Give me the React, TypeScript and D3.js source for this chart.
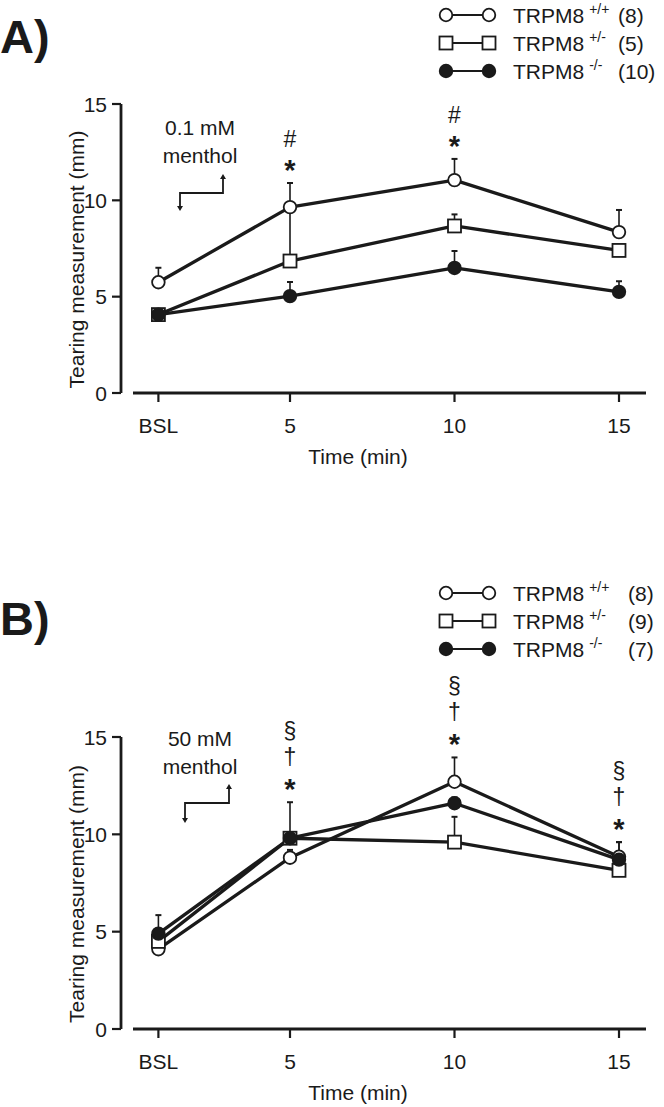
import React from 'react';
import * as d3 from 'd3';

// ---------- data ----------
const timeLabels = ['BSL', '5', '10', '15'];
const timeValues = [1, 5, 10, 15];
const yTicks = [0, 5, 10, 15];

const genotypes = ['+/+', '+/-', '-/-'];
const nA = ['(8)', '(5)', '(10)'];
const nB = ['(8)', '(9)', '(7)'];

// Panel A: 0.1 mM menthol
const wtA = [5.75, 9.65, 11.05, 8.35];
const wtAErr = [0.75, 1.25, 1.1, 1.15];
const hetA = [4.07, 6.85, 8.67, 7.4];
const hetAErr = [0.2, 2.8, 0.6, 0.2];
const koA = [4.07, 5.03, 6.49, 5.25];
const koAErr = [0.25, 0.73, 0.88, 0.55];

// Panel B: 50 mM menthol
const wtB = [4.1, 8.8, 12.7, 8.85];
const wtBErr = [0.2, 0.4, 1.25, 0.75];
const hetB = [4.5, 9.8, 9.6, 8.15];
const hetBErr = [0.3, 0.3, 1.3, 0.3];
const koB = [4.9, 9.8, 11.6, 8.7];
const koBErr = [0.95, 1.85, 0.3, 0.9];

const annotAIndex = [1, 2];
const annotAMarks = ['*', '#'];
const annotBIndex = [1, 2, 3];
const annotBMarks = ['*', '†', '§'];

const FONT = '"Liberation Sans", Arial, Helvetica, sans-serif';

type Series = { values: number[]; errs: number[]; shape: 'circle' | 'square'; fill: string };

const markStyle: Record<string, { size: number; weight: string; dy: number }> = {
  '*': { size: 29, weight: 'bold', dy: 15 },
  '#': { size: 23, weight: 'normal', dy: 8 },
  '†': { size: 23, weight: 'normal', dy: 7 },
  '§': { size: 23, weight: 'normal', dy: 7 },
};

function Marker({ cx, cy, shape, fill }: { cx: number; cy: number; shape: string; fill: string }) {
  if (shape === 'square') {
    const s = 13;
    return <rect x={cx - s / 2} y={cy - s / 2} width={s} height={s} fill={fill} stroke="#1a1a1a" strokeWidth={1.8} />;
  }
  return <circle cx={cx} cy={cy} r={6.3} fill={fill} stroke="#1a1a1a" strokeWidth={1.8} />;
}

function Panel(props: {
  top: number;
  bottom: number;
  series: Series[];
  annotIndex: number[];
  annotMarks: string[];
  legendY: number;
  legendN: string[];
  nX: number;
  label: string;
  labelY: number;
  conc: string;
  concY: number;
  arrow: { x1: number; y1: number; x2: number; yTop: number; yBot: number };
}) {
  const { top, bottom, series, annotIndex, annotMarks, legendY, legendN, nX, label, labelY, conc, concY, arrow } = props;
  const x = d3.scaleLinear().domain([0, 15]).range([125.5, 619]);
  const y = d3.scaleLinear().domain([0, 15]).range([bottom, top]);
  const line = d3
    .line<number>()
    .x((_, i) => x(timeValues[i]))
    .y((d) => y(d));
  const ink = '#1a1a1a';
  const axisX = 121;

  return (
    <g fontFamily={FONT} fill={ink}>
      {/* panel label */}
      <text x={0} y={labelY} fontSize={47} fontWeight="bold">{label}</text>

      {/* legend */}
      {series.map((s, i) => {
        const ly = legendY + i * 28;
        return (
          <g key={'lg' + i}>
            <line x1={446} x2={489} y1={ly} y2={ly} stroke={ink} strokeWidth={2} />
            <Marker cx={446} cy={ly} shape={s.shape} fill={s.fill} />
            <Marker cx={489} cy={ly} shape={s.shape} fill={s.fill} />
            <text x={513} y={ly + 8} fontSize={21}>
              TRPM8
              <tspan dx={5} dy={-9} fontSize={14}>{genotypes[i]}</tspan>
            </text>
            <text x={nX} y={ly + 8} fontSize={21}>{legendN[i]}</text>
          </g>
        );
      })}

      {/* y axis */}
      <line x1={axisX} x2={axisX} y1={y(0)} y2={y(15)} stroke={ink} strokeWidth={2.8} />
      {yTicks.map((t) => (
        <g key={'yt' + t}>
          <line x1={axisX - 9} x2={axisX} y1={y(t)} y2={y(t)} stroke={ink} strokeWidth={2.2} />
          <text x={107} y={y(t) + 7.5} fontSize={21} textAnchor="end">{t}</text>
        </g>
      ))}
      <text
        transform={`translate(84,${(y(0) + y(15)) / 2 + 11}) rotate(-90)`}
        fontSize={21}
        textAnchor="middle"
      >
        Tearing measurement (mm)
      </text>

      {/* x axis */}
      <line x1={133} x2={646} y1={bottom} y2={bottom} stroke={ink} strokeWidth={3} />
      {timeValues.map((t, i) => (
        <g key={'xt' + i}>
          <line x1={x(t)} x2={x(t)} y1={bottom} y2={bottom + 9} stroke={ink} strokeWidth={2.2} />
          <text x={x(t)} y={bottom + 40} fontSize={21} textAnchor="middle">{timeLabels[i]}</text>
        </g>
      ))}
      <text x={358} y={bottom + 71} fontSize={21} textAnchor="middle">Time (min)</text>

      {/* menthol annotation */}
      <text x={200} y={concY} fontSize={21} textAnchor="middle">{conc}</text>
      <text x={200} y={concY + 28} fontSize={21} textAnchor="middle">menthol</text>
      <path
        d={`M${arrow.x1},${arrow.yBot - 3} L${arrow.x1},${arrow.y1} L${arrow.x2},${arrow.y1} L${arrow.x2},${arrow.yTop + 3}`}
        fill="none"
        stroke={ink}
        strokeWidth={1.8}
      />
      <path d={`M${arrow.x1 - 3},${arrow.yBot - 4} L${arrow.x1 + 3},${arrow.yBot - 4} L${arrow.x1},${arrow.yBot + 1} Z`} fill={ink} />
      <path d={`M${arrow.x2 - 3},${arrow.yTop + 4} L${arrow.x2 + 3},${arrow.yTop + 4} L${arrow.x2},${arrow.yTop - 1} Z`} fill={ink} />

      {/* error bars */}
      {series.map((s, si) =>
        s.values.map((v, i) => (
          <g key={'eb' + si + '-' + i}>
            <line x1={x(timeValues[i])} x2={x(timeValues[i])} y1={y(v)} y2={y(v + s.errs[i])} stroke={ink} strokeWidth={1.6} />
            <line x1={x(timeValues[i]) - 3} x2={x(timeValues[i]) + 3} y1={y(v + s.errs[i])} y2={y(v + s.errs[i])} stroke={ink} strokeWidth={2} />
          </g>
        ))
      )}

      {/* lines */}
      {series.map((s, si) => (
        <path key={'ln' + si} d={line(s.values) || ''} fill="none" stroke={ink} strokeWidth={3.3} strokeLinejoin="round" />
      ))}

      {/* markers */}
      {series.map((s, si) =>
        s.values.map((v, i) => (
          <Marker key={'mk' + si + '-' + i} cx={x(timeValues[i])} cy={y(v)} shape={s.shape} fill={s.fill} />
        ))
      )}

      {/* significance marks */}
      {annotIndex.map((idx) => {
        const topVal = d3.max(series, (s) => s.values[idx] + s.errs[idx]) as number;
        const base = y(topVal);
        return annotMarks.map((m, k) => {
          const st = markStyle[m];
          const cy = base - 18 - 26 * k;
          return (
            <text
              key={'an' + idx + '-' + k}
              x={x(timeValues[idx])}
              y={cy + st.dy}
              fontSize={st.size}
              fontWeight={st.weight}
              textAnchor="middle"
            >
              {m}
            </text>
          );
        });
      })}
    </g>
  );
}

export default function App() {
  const seriesA: Series[] = [
    { values: wtA, errs: wtAErr, shape: 'circle', fill: '#ffffff' },
    { values: hetA, errs: hetAErr, shape: 'square', fill: '#ffffff' },
    { values: koA, errs: koAErr, shape: 'circle', fill: '#1a1a1a' },
  ];
  const seriesB: Series[] = [
    { values: wtB, errs: wtBErr, shape: 'circle', fill: '#ffffff' },
    { values: hetB, errs: hetBErr, shape: 'square', fill: '#ffffff' },
    { values: koB, errs: koBErr, shape: 'circle', fill: '#1a1a1a' },
  ];
  return (
    <svg
      width={664}
      height={1107}
      viewBox="0 0 664 1107"
      style={{ position: 'absolute', left: 0, top: 0, background: '#ffffff' }}
    >
      <rect x={0} y={0} width={664} height={1107} fill="#ffffff" />
      <Panel
        top={104}
        bottom={393}
        series={seriesA}
        annotIndex={annotAIndex}
        annotMarks={annotAMarks}
        legendY={15}
        legendN={nA}
        nX={618}
        label="A)"
        labelY={53}
        conc="0.1 mM"
        concY={135}
        arrow={{ x1: 180, y1: 193, x2: 223, yTop: 175, yBot: 210 }}
      />
      <Panel
        top={737}
        bottom={1029}
        series={seriesB}
        annotIndex={annotBIndex}
        annotMarks={annotBMarks}
        legendY={593}
        legendN={nB}
        nX={628}
        label="B)"
        labelY={635}
        conc="50 mM"
        concY={746}
        arrow={{ x1: 185, y1: 803, x2: 229, yTop: 785, yBot: 822 }}
      />
    </svg>
  );
}
